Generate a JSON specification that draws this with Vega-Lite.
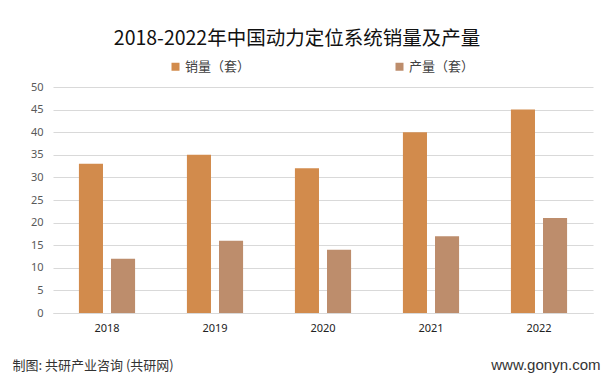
{
  "$schema": "https://vega.github.io/schema/vega-lite/v6.json",
  "width": 540,
  "height": 226,
  "autosize": {"type": "none"},
  "padding": {"left": 53, "top": 87, "right": 21, "bottom": 72},
  "background": "white",
  "title": {
    "text": "2018-2022年中国动力定位系统销量及产量",
    "font": "Noto Sans CJK SC",
    "fontSize": 19.5,
    "fontWeight": "normal",
    "color": "#111111",
    "anchor": "middle",
    "frame": "group",
    "dx": -26,
    "dy": -7
  },
  "data": {
    "values": [
      {"year": "2018", "series": "销量（套）", "value": 33},
      {"year": "2018", "series": "产量（套）", "value": 12},
      {"year": "2019", "series": "销量（套）", "value": 35},
      {"year": "2019", "series": "产量（套）", "value": 16},
      {"year": "2020", "series": "销量（套）", "value": 32},
      {"year": "2020", "series": "产量（套）", "value": 14},
      {"year": "2021", "series": "销量（套）", "value": 40},
      {"year": "2021", "series": "产量（套）", "value": 17},
      {"year": "2022", "series": "销量（套）", "value": 45},
      {"year": "2022", "series": "产量（套）", "value": 21}
    ]
  },
  "mark": {"type": "bar"},
  "encoding": {
    "x": {
      "field": "year",
      "type": "nominal",
      "scale": {"paddingInner": 0.48, "paddingOuter": 0.24},
      "axis": {
        "title": "www.gonyn.com",
        "titleFont": "Liberation Sans",
        "titleFontSize": 15,
        "titleFontWeight": "normal",
        "titleColor": "#333333",
        "titleAnchor": "end",
        "titleAlign": "right",
        "titleBaseline": "alphabetic",
        "titleX": 547,
        "titleY": 56,
        "labelAngle": 0,
        "labelFont": "Noto Sans",
        "labelFontSize": 11,
        "labelColor": "#222222",
        "labelPadding": 9,
        "ticks": false,
        "domainColor": "#d9d9d9",
        "domainWidth": 1,
        "grid": false
      }
    },
    "xOffset": {
      "field": "series",
      "type": "nominal",
      "sort": ["销量（套）", "产量（套）"],
      "scale": {"paddingInner": 0.25}
    },
    "y": {
      "field": "value",
      "type": "quantitative",
      "scale": {"domain": [0, 50], "nice": false},
      "axis": {
        "values": [0, 5, 10, 15, 20, 25, 30, 35, 40, 45, 50],
        "title": "制图: 共研产业咨询 (共研网)",
        "titleFont": "Noto Sans CJK SC",
        "titleFontSize": 13,
        "titleFontWeight": "normal",
        "titleColor": "#333333",
        "titleAngle": 0,
        "titleAlign": "left",
        "titleBaseline": "alphabetic",
        "titleX": -41,
        "titleY": 282,
        "labelFont": "Noto Sans",
        "labelFontSize": 11,
        "labelColor": "#595959",
        "labelPadding": 10,
        "ticks": false,
        "domain": false,
        "gridColor": "#d9d9d9",
        "gridWidth": 1
      }
    },
    "color": {
      "field": "series",
      "type": "nominal",
      "sort": ["销量（套）", "产量（套）"],
      "scale": {"domain": ["销量（套）", "产量（套）"], "range": ["#D28B4C", "#BD8D6C"]},
      "legend": {
        "title": null,
        "orient": "none",
        "direction": "horizontal",
        "legendX": 116,
        "legendY": -27,
        "columns": 2,
        "columnPadding": 142,
        "symbolType": "square",
        "symbolSize": 64,
        "symbolStrokeWidth": 0,
        "labelFont": "Noto Sans CJK SC",
        "labelFontSize": 13,
        "labelColor": "#404040",
        "labelOffset": 3
      }
    }
  },
  "config": {
    "view": {"stroke": null}
  }
}
